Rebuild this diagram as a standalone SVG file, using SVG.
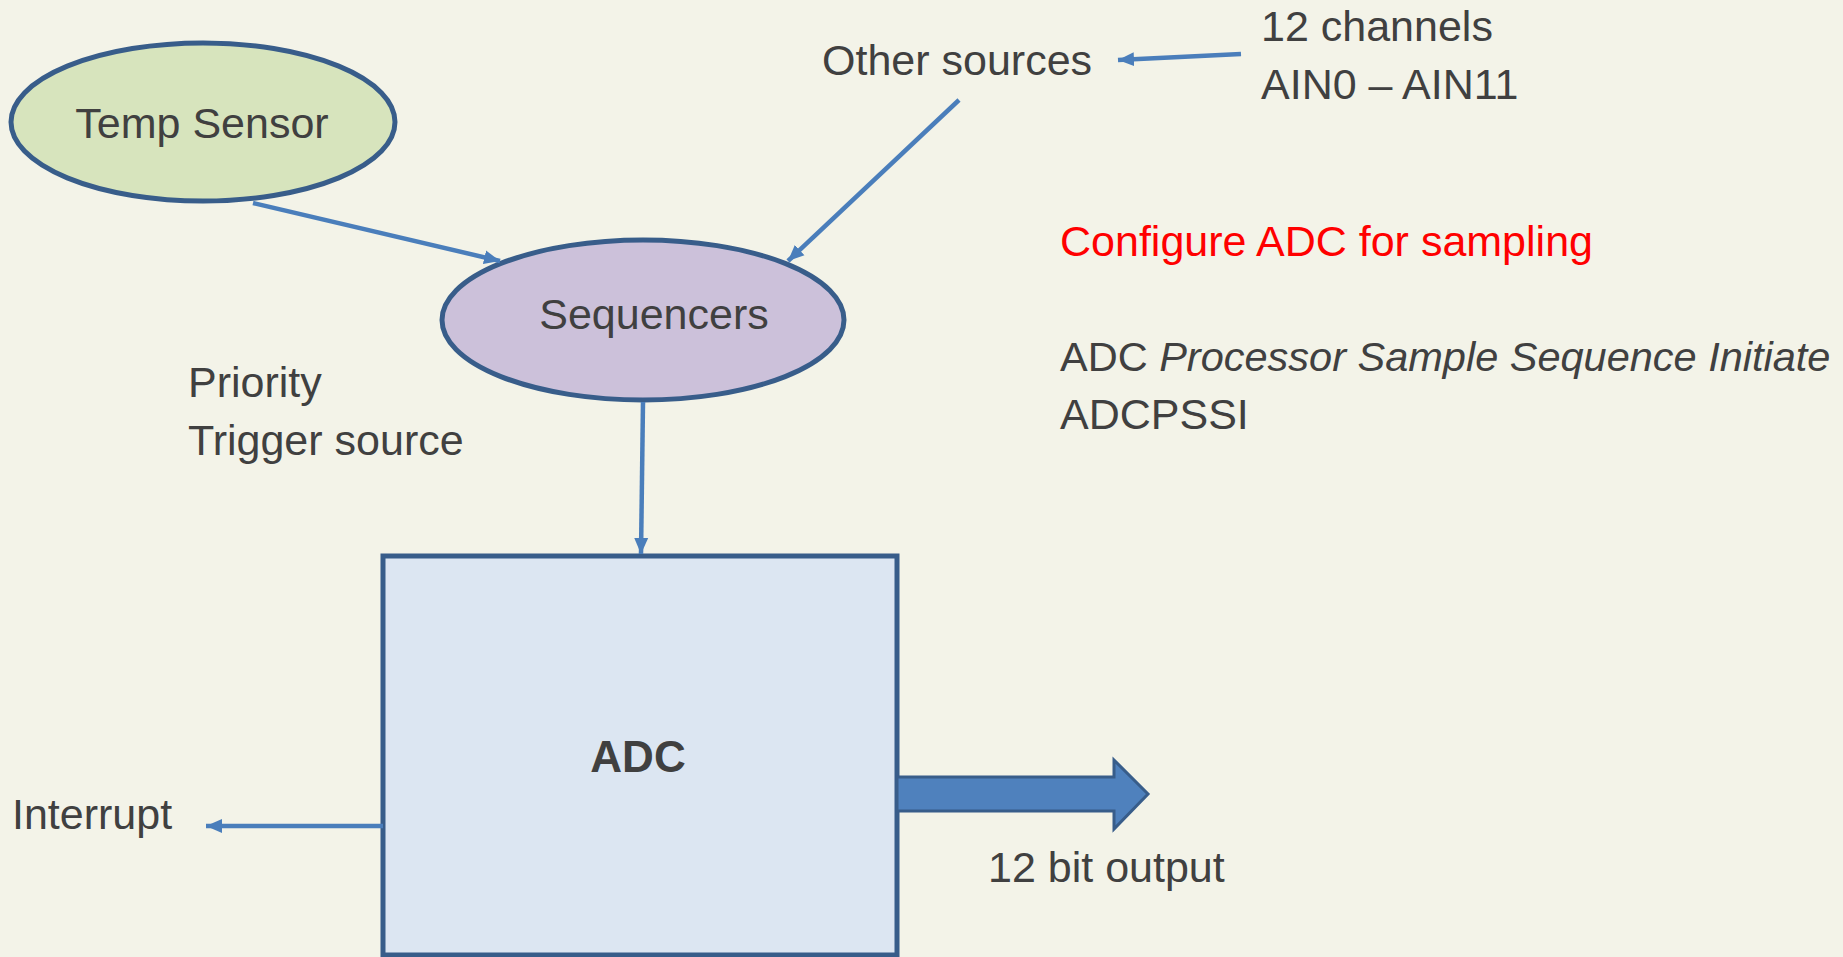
<svg xmlns="http://www.w3.org/2000/svg" width="1843" height="957" viewBox="0 0 1843 957">
<style>
.t{font-family:"Liberation Sans",Arial,sans-serif;font-size:43px;fill:#404040}
.node{stroke:#385d8a;stroke-width:5}
.c{stroke:#4a7ebb;stroke-width:4.5;fill:none;marker-end:url(#ah)}
</style>
<defs>
<marker id="ah" markerUnits="userSpaceOnUse" markerWidth="18" markerHeight="16" refX="16" refY="8" orient="auto">
<path d="M0,1 L16,8 L0,15 Z" fill="#4a7ebb"/>
</marker>
</defs>
<rect width="1843" height="957" fill="#f3f3e8"/>
<g id="temp-sensor">
<ellipse class="node" cx="203" cy="122" rx="192" ry="79" fill="#d7e4bd"/>
<text class="t" x="202" y="138" text-anchor="middle">Temp Sensor</text>
</g>
<g id="sequencers">
<ellipse class="node" cx="643" cy="320" rx="201" ry="80" fill="#ccc1da"/>
<text class="t" x="654" y="329" text-anchor="middle">Sequencers</text>
</g>
<g id="adc">
<rect class="node" x="383" y="556" width="514" height="399" fill="#dce6f2" stroke-width="4"/>
<text class="t" x="638" y="772" text-anchor="middle" font-weight="bold" style="font-size:44px">ADC</text>
</g>
<g id="output-arrow">
<path d="M897,777 L1114,777 L1114,760 L1148,794 L1114,829 L1114,811 L897,811 Z" fill="#4f81bd" stroke="#385d8a" stroke-width="3"/>
</g>
<g id="connectors">
<line class="c" x1="253" y1="203" x2="500" y2="261"/>
<line class="c" x1="959" y1="100" x2="788" y2="261"/>
<line class="c" x1="1241" y1="54" x2="1118" y2="60"/>
<line class="c" x1="643" y1="402" x2="641" y2="554"/>
<line class="c" x1="383" y1="826" x2="206" y2="826"/>
</g>
<g id="labels">
<text class="t" x="822" y="75">Other sources</text>
<text class="t" x="1261" y="41">12 channels</text>
<text class="t" x="1261" y="99">AIN0 – AIN11</text>
<text class="t" x="1060" y="256" style="fill:#ff0000">Configure ADC for sampling</text>
<text class="t" x="1060" y="371" style="font-size:41.5px">ADC <tspan font-style="italic">Processor Sample Sequence Initiate</tspan></text>
<text class="t" x="1060" y="429">ADCPSSI</text>
<text class="t" x="188" y="397">Priority</text>
<text class="t" x="188" y="455">Trigger source</text>
<text class="t" x="12" y="829">Interrupt</text>
<text class="t" x="988" y="882">12 bit output</text>
</g>
</svg>
